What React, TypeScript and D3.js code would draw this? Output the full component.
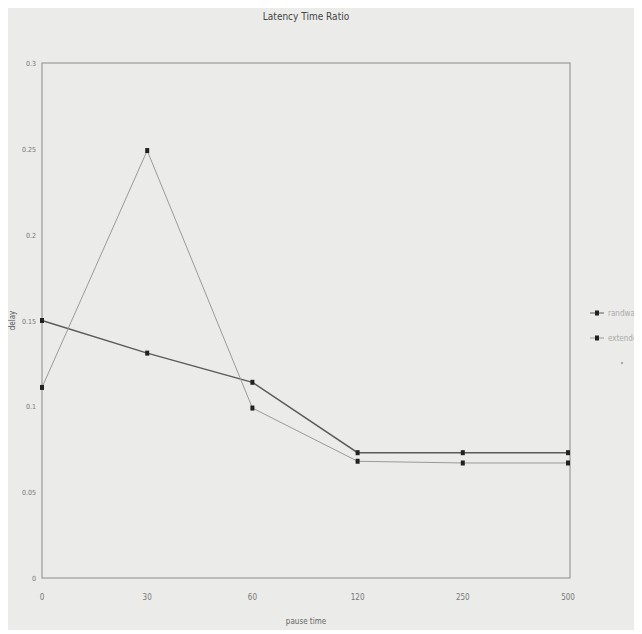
import React, { useRef, useEffect } from "react";
import * as d3 from "d3";

const pauseTimes = ["0", "30", "60", "120", "250", "500"];
const randwalk = [0.15, 0.131, 0.114, 0.073, 0.073, 0.073];
const extended = [0.111, 0.249, 0.099, 0.068, 0.067, 0.067];
const yTicks = [0, 0.05, 0.1, 0.15, 0.2, 0.25, 0.3];
const seriesNames = ["randwalk", "extended"];

const W = 642;
const H = 634;
const margins = { top: 63, left: 42, right: 72, bottom: 56 };

const App = () => {
  const svgRef = useRef<SVGSVGElement>(null);

  useEffect(() => {
    const svg = d3.select(svgRef.current);
    svg.selectAll("*").remove();

    const font = "'Liberation Sans Narrow', 'DejaVu Sans Condensed', sans-serif";

    svg.append("rect").attr("width", W).attr("height", H).attr("fill", "#ebebe9");

    const x = d3
      .scalePoint<string>()
      .domain(pauseTimes)
      .range([margins.left, W - margins.right - 2]);
    const y = d3
      .scaleLinear()
      .domain([0, 0.3])
      .range([H - margins.bottom, margins.top]);

    // frame
    svg
      .append("rect")
      .attr("x", margins.left)
      .attr("y", margins.top)
      .attr("width", W - margins.right - margins.left)
      .attr("height", H - margins.bottom - margins.top)
      .attr("fill", "none")
      .attr("stroke", "#8a8a8a")
      .attr("stroke-width", 1);

    // title
    svg
      .append("text")
      .attr("x", 306)
      .attr("y", 20)
      .attr("text-anchor", "middle")
      .attr("font-family", font)
      .attr("font-size", 10)
      .attr("fill", "#444")
      .text("Latency Time Ratio");

    // y ticks
    svg
      .append("g")
      .selectAll("text")
      .data(yTicks)
      .enter()
      .append("text")
      .attr("x", margins.left - 6)
      .attr("y", (d) => y(d) + 3)
      .attr("text-anchor", "end")
      .attr("font-family", font)
      .attr("font-size", 7)
      .attr("fill", "#777")
      .text((d) => String(d));

    // x ticks
    svg
      .append("g")
      .selectAll("text")
      .data(pauseTimes)
      .enter()
      .append("text")
      .attr("x", (d) => x(d)!)
      .attr("y", H - margins.bottom + 22)
      .attr("text-anchor", "middle")
      .attr("font-family", font)
      .attr("font-size", 8)
      .attr("fill", "#777")
      .text((d) => d);

    // axis labels
    svg
      .append("text")
      .attr("x", 306)
      .attr("y", H - 10)
      .attr("text-anchor", "middle")
      .attr("font-family", font)
      .attr("font-size", 8)
      .attr("fill", "#666")
      .text("pause time");

    svg
      .append("text")
      .attr("transform", `translate(15,${y(0.15)}) rotate(-90)`)
      .attr("text-anchor", "middle")
      .attr("font-family", font)
      .attr("font-size", 8)
      .attr("fill", "#555")
      .text("delay");

    const line = d3
      .line<number>()
      .x((_, i) => x(pauseTimes[i])!)
      .y((d) => y(d));

    const styles = [
      { data: randwalk, stroke: "#5a5a5a", width: 1.4 },
      { data: extended, stroke: "#9a9a9a", width: 1 },
    ];

    styles.forEach((s) => {
      svg
        .append("path")
        .datum(s.data)
        .attr("d", line)
        .attr("fill", "none")
        .attr("stroke", s.stroke)
        .attr("stroke-width", s.width);
      svg
        .append("g")
        .selectAll("rect")
        .data(s.data)
        .enter()
        .append("rect")
        .attr("x", (_, i) => x(pauseTimes[i])! - 2)
        .attr("y", (d) => y(d) - 2.5)
        .attr("width", 4)
        .attr("height", 5)
        .attr("fill", "#222");
    });

    // legend
    const legend = svg.append("g").attr("transform", "translate(590,313)");
    seriesNames.forEach((name, i) => {
      const g = legend.append("g").attr("transform", `translate(0,${i * 25})`);
      g.append("line")
        .attr("x1", 0)
        .attr("x2", 14)
        .attr("stroke", styles[i].stroke)
        .attr("stroke-width", 1);
      g.append("rect").attr("x", 5).attr("y", -2.5).attr("width", 4).attr("height", 5).attr("fill", "#222");
      g.append("text")
        .attr("x", 18)
        .attr("y", 3)
        .attr("font-family", font)
        .attr("font-size", 8)
        .attr("fill", "#aaa")
        .text(name);
    });
    legend.append("circle").attr("cx", 32).attr("cy", 50).attr("r", 1.2).attr("fill", "#aaa");
  }, []);

  return (
    <div style={{ margin: -8 }}>
      <svg ref={svgRef} width={W} height={H}></svg>
    </div>
  );
};

export default App;
